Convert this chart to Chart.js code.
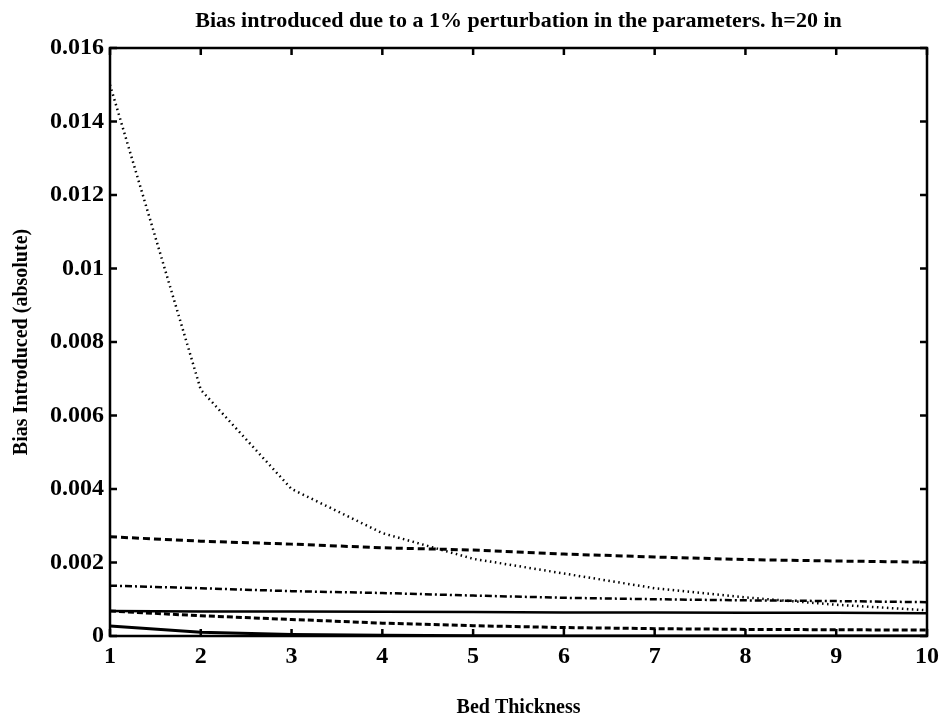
<!DOCTYPE html>
<html>
<head>
<meta charset="utf-8">
<script src="https://cdn.jsdelivr.net/npm/chart.js@4"></script>
<style>
  body { margin: 0; background: #fff; }
</style>
</head>
<body>
<canvas id="biasChart" width="945" height="723"></canvas>
<script>
// Bed thickness values (x axis)
const thickness = [1, 2, 3, 4, 5, 6, 7, 8, 9, 10];

// Bias curves
const biasDotted = [0.0150, 0.0067, 0.0040, 0.0028, 0.0021, 0.0017, 0.0013, 0.00105, 0.00085, 0.0007];
const biasDashed = [0.0027, 0.00258, 0.0025, 0.0024, 0.00234, 0.00223, 0.00215, 0.00208, 0.00204, 0.00201];
const biasDashDot = [0.00137, 0.0013, 0.00122, 0.00117, 0.0011, 0.00104, 0.001, 0.00097, 0.00095, 0.00092];
const biasSolid = [0.00068, 0.00067, 0.00067, 0.00066, 0.00065, 0.00064, 0.00064, 0.00063, 0.00063, 0.00062];
const biasDashedLow = [0.00068, 0.00055, 0.00045, 0.00035, 0.00028, 0.00023, 0.0002, 0.00018, 0.00017, 0.00016];
const biasSolidLow = [0.00027, 0.0001, 0.00004, 0.00002, 0.00001, 0, 0, 0, 0, 0];

const chartTitle = 'Bias introduced due to a 1% perturbation in the parameters. h=20 in';
const serif = 'Liberation Serif, "DejaVu Serif", serif';

function toPoints(values) {
    return thickness.map((x, i) => ({ x: x, y: values[i] }));
}

function line(values, dash, width) {
    return {
        data: toPoints(values),
        borderColor: '#000',
        borderWidth: width,
        borderDash: dash,
        pointRadius: 0,
        tension: 0,
        fill: false
    };
}

// Box around the plot with inward tick marks on all four sides,
// plus the title centred over the plot area (not the whole canvas)
const frameTicks = {
    id: 'frameTicks',
    afterDraw(chart) {
        const { ctx, chartArea: a, scales } = chart;
        const len = 7;
        ctx.save();
        ctx.strokeStyle = '#000';
        ctx.lineWidth = 2.5;
        ctx.strokeRect(a.left, a.top, a.right - a.left, a.bottom - a.top);
        ctx.beginPath();
        scales.x.ticks.forEach(t => {
            const px = scales.x.getPixelForValue(t.value);
            ctx.moveTo(px, a.bottom); ctx.lineTo(px, a.bottom - len);
            ctx.moveTo(px, a.top); ctx.lineTo(px, a.top + len);
        });
        scales.y.ticks.forEach(t => {
            const py = scales.y.getPixelForValue(t.value);
            ctx.moveTo(a.left, py); ctx.lineTo(a.left + len, py);
            ctx.moveTo(a.right, py); ctx.lineTo(a.right - len, py);
        });
        ctx.stroke();

        ctx.fillStyle = '#000';
        ctx.font = 'bold 22px ' + serif;
        ctx.textAlign = 'center';
        ctx.textBaseline = 'middle';
        ctx.fillText(chartTitle, (a.left + a.right) / 2, 21);
        ctx.restore();
    }
};

new Chart(document.getElementById('biasChart'), {
    type: 'line',
    data: {
        datasets: [
            line(biasDotted, [1.5, 3.5], 2.5),
            line(biasDashed, [7, 4], 3),
            line(biasDashDot, [7, 3, 2, 3], 2.5),
            line(biasSolid, [], 2.5),
            line(biasDashedLow, [6, 3], 3),
            line(biasSolidLow, [], 3)
        ]
    },
    options: {
        responsive: false,
        animation: false,
        layout: { padding: { left: 0, right: 16, top: 48, bottom: 0 } },
        plugins: {
            legend: { display: false },
            tooltip: { enabled: false },
            title: { display: false }
        },
        scales: {
            x: {
                type: 'linear',
                min: 1,
                max: 10,
                grid: { display: false, drawTicks: false },
                border: { display: false },
                ticks: {
                    stepSize: 1,
                    padding: 6,
                    color: '#000',
                    font: { family: serif, size: 24, weight: 'bold' }
                },
                title: {
                    display: true,
                    text: 'Bed Thickness',
                    color: '#000',
                    font: { family: serif, size: 20, weight: 'bold' },
                    padding: { top: 22, bottom: 3 }
                },
                afterFit(scale) { scale.height = 87; }
            },
            y: {
                min: 0,
                max: 0.016,
                grid: { display: false, drawTicks: false },
                border: { display: false },
                ticks: {
                    stepSize: 0.002,
                    padding: 6,
                    color: '#000',
                    font: { family: serif, size: 24, weight: 'bold' },
                    callback: v => String(+v.toFixed(3))
                },
                title: {
                    display: true,
                    text: 'Bias Introduced (absolute)',
                    color: '#000',
                    font: { family: serif, size: 20, weight: 'bold' },
                    padding: { top: 10, bottom: 0 }
                },
                afterFit(scale) { scale.width = 110; }
            }
        }
    },
    plugins: [frameTicks]
});
</script>
</body>
</html>
